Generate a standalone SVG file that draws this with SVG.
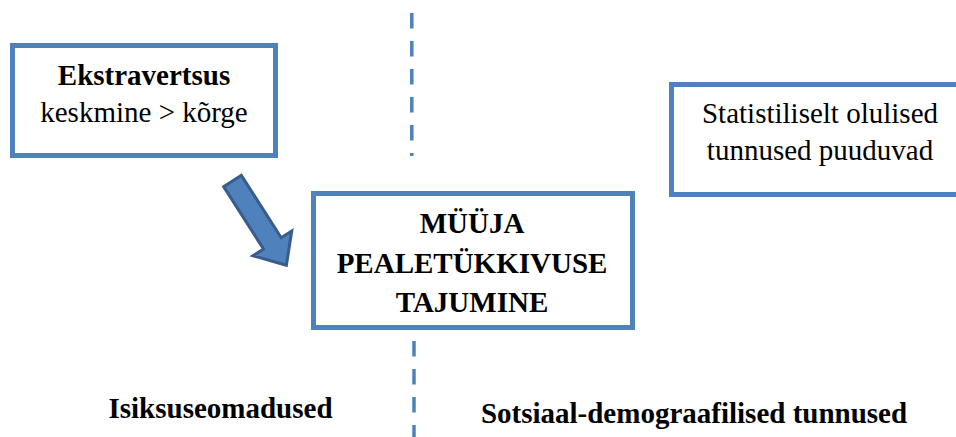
<svg xmlns="http://www.w3.org/2000/svg" width="956" height="437" viewBox="0 0 956 437">
  <style>
    .box { fill: #ffffff; stroke: #4f81bd; stroke-width: 5; }
    .divider { fill: none; stroke: #4f81bd; stroke-width: 3.5; stroke-dasharray: 15.5 12.5; }
    .t { font-size: 29px; fill: #000000; text-anchor: middle; }
    .b { font-weight: bold; }
    .arrow { fill: #4f81bd; stroke: #385d8a; stroke-width: 3; stroke-linejoin: miter; }
  </style>

  <!-- dashed vertical divider and the block arrow -->
  <g id="connectors">
    <line class="divider" x1="411.8" y1="13" x2="411.8" y2="156"/>
    <line class="divider" x1="414" y1="341" x2="414" y2="437"/>
    <polygon class="arrow" points="0,-10.5 74,-10.5 74,-23 100,0 74,23 74,10.5 0,10.5" transform="translate(232.5,181) rotate(57.4)"/>
  </g>

  <g font-family="Liberation Serif, DejaVu Serif, serif">
    <g id="extraversion">
      <rect class="box" x="12.5" y="45.5" width="263" height="110"/>
      <text class="t b" x="144" y="85">Ekstravertsus</text>
      <text class="t" x="144" y="122">keskmine &gt; kõrge</text>
    </g>

    <g id="perception">
      <rect class="box" x="313.5" y="193.5" width="319" height="134"/>
      <text class="t b" x="472" y="233">MÜÜJA</text>
      <text class="t b" x="472" y="273">PEALETÜKKIVUSE</text>
      <text class="t b" x="472" y="312">TAJUMINE</text>
    </g>

    <g id="no-significant">
      <rect class="box" x="671.5" y="84.5" width="300" height="110"/>
      <text class="t" x="820" y="123">Statistiliselt olulised</text>
      <text class="t" x="820" y="160">tunnused puuduvad</text>
    </g>

    <g id="label-personality">
      <text class="t b" x="220.5" y="418">Isiksuseomadused</text>
    </g>

    <g id="label-sociodemographic">
      <text class="t b" x="694" y="423">Sotsiaal-demograafilised tunnused</text>
    </g>
  </g>
</svg>
